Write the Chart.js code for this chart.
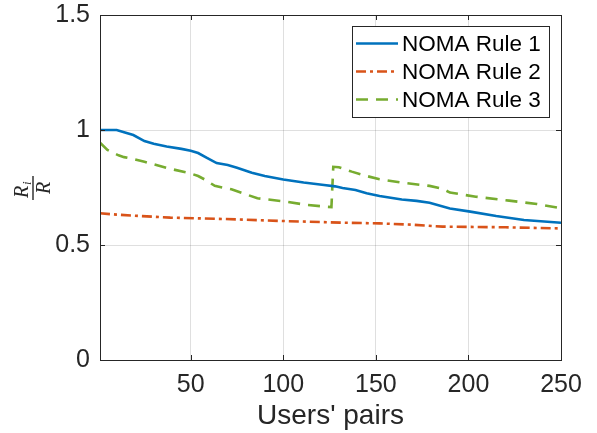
<!DOCTYPE html>
<html>
<head>
<meta charset="utf-8">
<script src="https://cdn.jsdelivr.net/npm/chart.js@4/dist/chart.umd.min.js"></script>
<style>
  html, body { margin: 0; padding: 0; background: #fff; }
  #wrap { width: 597px; height: 433px; }
</style>
</head>
<body>
<div id="wrap"><canvas id="ratioChart" width="597" height="433"></canvas></div>
<script>
// valores
const seriesLabels = ['NOMA Rule 1', 'NOMA Rule 2', 'NOMA Rule 3'];

const xRule1 = [1, 10, 14, 19, 25, 30, 37, 45, 50, 54, 59, 64, 70, 75, 83, 90, 100, 111, 122, 128, 132, 139, 145, 152, 164, 172, 179, 190, 201, 215, 230, 250];
const yRule1 = [1.0, 1.0, 0.99, 0.978, 0.952, 0.94, 0.928, 0.918, 0.91, 0.9, 0.878, 0.856, 0.848, 0.836, 0.814, 0.80, 0.785, 0.772, 0.761, 0.755, 0.748, 0.739, 0.725, 0.713, 0.698, 0.692, 0.684, 0.659, 0.645, 0.626, 0.609, 0.597];

const xRule2 = [1, 10, 23, 39, 68, 101, 132, 152, 170, 186, 220, 250];
const yRule2 = [0.638, 0.632, 0.626, 0.619, 0.613, 0.604, 0.597, 0.594, 0.588, 0.58, 0.577, 0.572];

const xRule3 = [1, 5, 11, 14, 20, 25, 37, 50, 54, 58, 63, 72, 80, 86, 100, 112, 124, 126, 127, 130, 137, 145, 152, 164, 179, 186, 190, 204, 222, 237, 250];
const yRule3 = [0.945, 0.913, 0.89, 0.882, 0.872, 0.862, 0.835, 0.811, 0.80, 0.783, 0.757, 0.742, 0.72, 0.703, 0.69, 0.675, 0.666, 0.665, 0.84, 0.838, 0.819, 0.80, 0.786, 0.771, 0.757, 0.745, 0.728, 0.71, 0.693, 0.678, 0.66];

const xTicks = [50, 100, 150, 200, 250];
const yTicks = [0, 0.5, 1, 1.5];

const toPoints = (xs, ys) => xs.map((x, i) => ({ x: x, y: ys[i] }));

const axisColor = '#262626';
const gridColor = 'rgba(38,38,38,0.15)';
const tickFont = { family: 'Liberation Sans', size: 25 };

// moldura, marcas internas, rótulo do eixo y e legenda no estilo MATLAB
const matlabPlugin = {
    id: 'matlabBox',
    afterDatasetsDraw(chart) {
        const ctx = chart.ctx;
        const a = chart.chartArea;
        const xs = chart.scales.x, ys = chart.scales.y;
        ctx.save();
        ctx.strokeStyle = axisColor;
        ctx.lineWidth = 1;
        ctx.beginPath();
        xTicks.forEach(v => {
            const px = Math.round(xs.getPixelForValue(v)) + 0.5;
            ctx.moveTo(px, a.bottom); ctx.lineTo(px, a.bottom - 5);
            ctx.moveTo(px, a.top); ctx.lineTo(px, a.top + 5);
        });
        yTicks.forEach(v => {
            const py = Math.round(ys.getPixelForValue(v)) + 0.5;
            ctx.moveTo(a.left, py); ctx.lineTo(a.left + 5, py);
            ctx.moveTo(a.right, py); ctx.lineTo(a.right - 5, py);
        });
        ctx.stroke();
        ctx.strokeRect(Math.round(a.left) + 0.5, Math.round(a.top) + 0.5,
            Math.round(a.right - a.left), Math.round(a.bottom - a.top));

        // legenda
        const lx = 352, ly = 26, lw = 197, lh = 91;
        ctx.fillStyle = '#fff';
        ctx.fillRect(lx, ly, lw, lh);
        ctx.strokeStyle = axisColor;
        ctx.strokeRect(lx + 0.5, ly + 0.5, lw, lh);
        const rows = [43.5, 71.5, 99.5];
        chart.data.datasets.forEach((ds, i) => {
            ctx.strokeStyle = ds.borderColor;
            ctx.lineWidth = ds.borderWidth;
            ctx.setLineDash(ds.borderDash || []);
            ctx.beginPath();
            ctx.moveTo(356, rows[i]);
            ctx.lineTo(398, rows[i]);
            ctx.stroke();
            ctx.setLineDash([]);
            ctx.fillStyle = '#000';
            ctx.font = '22.5px "Liberation Sans"';
            ctx.textBaseline = 'middle';
            ctx.textAlign = 'left';
            ctx.fillText(ds.label, 402, rows[i] + 1);
        });

        // rótulo y: R_i / R
        ctx.translate(33, 188);
        ctx.rotate(-Math.PI / 2);
        ctx.fillStyle = axisColor;
        ctx.strokeStyle = axisColor;
        ctx.lineWidth = 1.4;
        ctx.beginPath();
        ctx.moveTo(-12, 0); ctx.lineTo(12, 0);
        ctx.stroke();
        ctx.textAlign = 'left';
        ctx.textBaseline = 'alphabetic';
        ctx.font = 'italic 20px "Liberation Serif"';
        ctx.fillText('R', -10, -5);
        ctx.font = 'italic 13px "Liberation Serif"';
        ctx.fillText('i', 3, -2);
        ctx.font = 'italic 20px "Liberation Serif"';
        ctx.textAlign = 'center';
        ctx.fillText('R', 0, 17);
        ctx.restore();
    }
};

const ratioCtx = document.getElementById('ratioChart').getContext('2d');
const ratioChart = new Chart(ratioCtx, {
    type: 'line',
    data: {
        datasets: [{
            label: seriesLabels[0],
            data: toPoints(xRule1, yRule1),
            borderColor: '#0072BD',
            borderWidth: 2.6,
        }, {
            label: seriesLabels[1],
            data: toPoints(xRule2, yRule2),
            borderColor: '#D95319',
            borderWidth: 2.6,
            borderDash: [10, 4, 3, 4],
        }, {
            label: seriesLabels[2],
            data: toPoints(xRule3, yRule3),
            borderColor: '#77AC30',
            borderWidth: 2.6,
            borderDash: [12, 8],
        }]
    },
    options: {
        responsive: false,
        animation: false,
        elements: {
            point: { radius: 0 },
            line: { tension: 0, fill: false }
        },
        layout: { padding: { top: 15, right: 36, left: 0, bottom: 0 } },
        plugins: {
            legend: { display: false },
            tooltip: { enabled: false }
        },
        scales: {
            x: {
                type: 'linear',
                min: 1,
                max: 250,
                afterBuildTicks: s => { s.ticks = xTicks.map(v => ({ value: v })); },
                afterFit: s => { s.height = 73; s.paddingLeft = 0; s.paddingRight = 0; },
                grid: { color: gridColor, drawTicks: false },
                border: { display: false },
                ticks: { color: axisColor, font: tickFont, padding: 10, maxRotation: 0 },
                title: {
                    display: true,
                    text: "Users' pairs",
                    color: axisColor,
                    font: { family: 'Liberation Sans', size: 28 },
                    padding: { top: 0, bottom: 0 }
                }
            },
            y: {
                min: 0,
                max: 1.5,
                afterBuildTicks: s => { s.ticks = yTicks.map(v => ({ value: v })); },
                afterFit: s => { s.width = 100; s.paddingTop = 0; s.paddingBottom = 0; },
                grid: { color: gridColor, drawTicks: false },
                border: { display: false },
                ticks: { color: axisColor, font: tickFont, padding: 10, callback: v => String(v) }
            }
        }
    },
    plugins: [matlabPlugin]
});
</script>
</body>
</html>
